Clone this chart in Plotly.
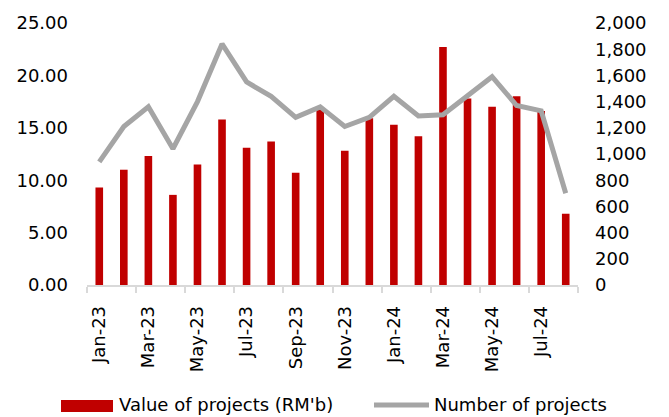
import plotly.graph_objects as go

# Monthly construction projects awarded
months = ["Jan-23", "Feb-23", "Mar-23", "Apr-23", "May-23", "Jun-23", "Jul-23",
          "Aug-23", "Sep-23", "Oct-23", "Nov-23", "Dec-23", "Jan-24", "Feb-24",
          "Mar-24", "Apr-24", "May-24", "Jun-24", "Jul-24", "Aug-24"]
value_rm_b = [9.3, 11.0, 12.3, 8.6, 11.5, 15.8, 13.1, 13.7, 10.7, 16.7,
              12.8, 15.9, 15.3, 14.2, 22.7, 17.8, 17.0, 18.0, 16.6, 6.8]
num_projects = [940, 1210, 1360, 1040, 1400, 1840, 1550, 1440, 1280, 1360,
                1210, 1280, 1440, 1290, 1300, 1450, 1590, 1370, 1330, 700]

bar_name = "Value of projects (RM'b)"
line_name = "Number of projects"

RED = "#c00000"
GREY = "#a5a5a5"
AXIS_GREY = "#d9d9d9"
FONT = dict(family="DejaVu Sans", size=18, color="#000000")

idx = list(range(len(months)))

fig = go.Figure()
fig.add_trace(go.Bar(x=idx, y=value_rm_b, name=bar_name, marker_color=RED,
                     marker_line_width=0, yaxis="y"))
fig.add_trace(go.Scatter(x=idx, y=num_projects, name=line_name, mode="lines",
                         line=dict(color=GREY, width=5), yaxis="y2"))

W, H = 669, 417
L, R, T, B = 87, 91, 23, 132
pw, ph = W - L - R, H - T - B


def px_x(px):
    return (px - L) / pw


def px_y(py):
    return (H - B - py) / ph


fig.update_layout(
    width=W, height=H,
    margin=dict(l=L, r=R, t=T, b=B),
    paper_bgcolor="white", plot_bgcolor="white",
    font=FONT,
    showlegend=False,
    bargap=0.69,
    xaxis=dict(
        range=[-0.5, len(months) - 0.5],
        tickmode="array",
        tickvals=idx[::2],
        ticktext=months[::2],
        tickangle=-90,
        ticks="", ticklen=0,
        ticklabelstandoff=12,
        showgrid=False, zeroline=False,
        showline=True, linecolor=AXIS_GREY, linewidth=1.5,
        minor=dict(tickmode="array",
                   tickvals=[i - 0.5 for i in range(0, len(months) + 1, 2)],
                   ticks="outside", ticklen=6, tickcolor=AXIS_GREY, tickwidth=1.5,
                   showgrid=False),
        fixedrange=True,
    ),
    yaxis=dict(
        range=[0, 25], dtick=5, tickformat=".2f",
        showgrid=False, zeroline=False, showline=False,
        ticks="", ticklabelstandoff=18,
    ),
    yaxis2=dict(
        range=[0, 2000], dtick=200, tickformat=",",
        overlaying="y", side="right",
        showgrid=False, zeroline=False, showline=False,
        ticks="", ticklabelstandoff=16,
    ),
)

# Legend drawn below the chart
fig.add_shape(type="rect", xref="paper", yref="paper",
              x0=px_x(61), x1=px_x(113), y0=px_y(412), y1=px_y(400),
              fillcolor=RED, line_width=0)
fig.add_shape(type="line", xref="paper", yref="paper",
              x0=px_x(374), x1=px_x(429), y0=px_y(405), y1=px_y(405),
              line=dict(color=GREY, width=5))
fig.add_annotation(text=bar_name, xref="paper", yref="paper",
                   x=px_x(117), y=px_y(405), xanchor="left", yanchor="middle",
                   showarrow=False, font=FONT)
fig.add_annotation(text=line_name, xref="paper", yref="paper",
                   x=px_x(432), y=px_y(405), xanchor="left", yanchor="middle",
                   showarrow=False, font=FONT)

fig.write_html("out.html")
